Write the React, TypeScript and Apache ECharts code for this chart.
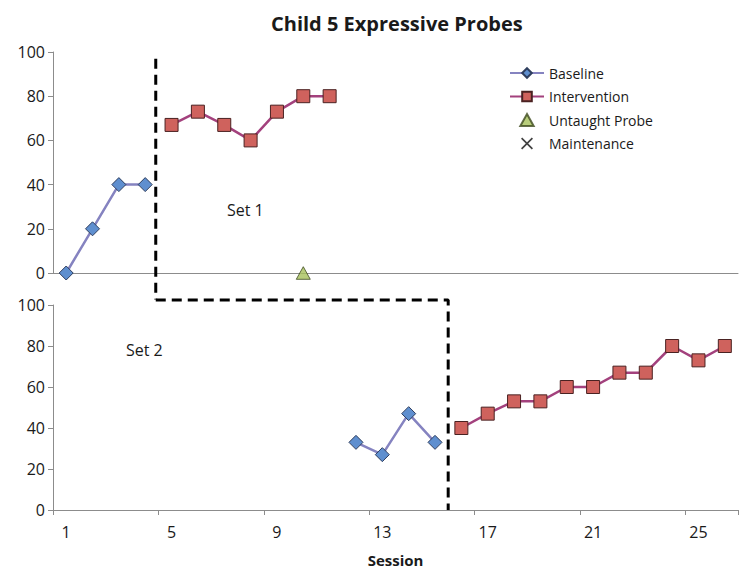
import React, { useEffect, useRef } from "react";
import * as echarts from "echarts";

const sessions = Array.from({ length: 26 }, (_, i) => String(i + 1));

// Set 1 (top panel)
const set1BaselineSessions = [1, 2, 3, 4];
const set1BaselineValues = [0, 20, 40, 40];
const set1InterventionSessions = [5, 6, 7, 8, 9, 10, 11];
const set1InterventionValues = [67, 73, 67, 60, 73, 80, 80];
const untaughtSessions = [10];
const untaughtValues = [0];

// Set 2 (bottom panel)
const set2BaselineSessions = [12, 13, 14, 15];
const set2BaselineValues = [33, 27, 47, 33];
const set2InterventionSessions = [16, 17, 18, 19, 20, 21, 22, 23, 24, 25, 26];
const set2InterventionValues = [40, 47, 53, 53, 60, 60, 67, 67, 80, 73, 80];

// Phase change lines (session position, value)
const phaseTopX = [4.4, 4.4];
const phaseTopY = [97, -12];
const phaseBottomX = [4.4, 15.5, 15.5];
const phaseBottomY = [102.5, 102.5, 0];

const FONT = "'Open Sans', sans-serif";
const TXT = "#1a1a1a";
const AXIS = "#8c8c8c";

const crossPath =
  "path://M1,0 L5,4 L9,0 L10,1 L6,5 L10,9 L9,10 L5,6 L1,10 L0,9 L4,5 L0,1 Z";
const trianglePath = "path://M5,0 L10,9 L0,9 Z";

const legendData = [
  { name: "Baseline" },
  { name: "Intervention" },
  { name: "Untaught Probe", icon: trianglePath },
  { name: "Maintenance", icon: crossPath },
];

const toPairs = (xs: number[], ys: number[]) => xs.map((s, i) => [s - 1, ys[i]]);
const toXY = (xs: number[], ys: number[]) => xs.map((x, i) => [x, ys[i]]);

const baselineStyle = {
  type: "line" as const,
  name: "Baseline",
  symbol: "diamond",
  symbolSize: 14,
  lineStyle: { color: "#8583c0", width: 2.5 },
  itemStyle: { color: "#5f8fcf", borderColor: "#2f3e5e", borderWidth: 1 },
};
const interventionStyle = {
  type: "line" as const,
  name: "Intervention",
  symbol: "rect",
  symbolSize: 13,
  lineStyle: { color: "#a3417d", width: 2.5 },
  itemStyle: { color: "#cf625d", borderColor: "#4a2222", borderWidth: 1 },
};
const phaseStyle = {
  type: "line" as const,
  name: "phase",
  symbol: "none",
  clip: false,
  silent: true,
  lineStyle: { color: "#000", width: 3, type: [10, 6] as any },
};

export default function App() {
  const ref = useRef<HTMLDivElement>(null);
  useEffect(() => {
    if (!ref.current) return;
    const chart = echarts.init(ref.current, null, { renderer: "svg" });
    const yAxisBase = {
      type: "value" as const,
      min: 0,
      max: 100,
      interval: 20,
      splitLine: { show: false },
      axisLine: { show: true, lineStyle: { color: AXIS, width: 1 } },
      axisTick: { show: true, length: 5, lineStyle: { color: AXIS } },
      axisLabel: { color: TXT, fontSize: 16, fontFamily: FONT, margin: 8 },
    };
    chart.setOption({
      animation: false,
      backgroundColor: "#fff",
      title: {
        text: "Child 5 Expressive Probes",
        left: 266,
        top: 8,
        textStyle: { fontSize: 20, fontWeight: "bold", color: TXT, fontFamily: FONT },
      },
      legend: {
        data: legendData,
        orient: "vertical",
        left: 504,
        top: 61,
        itemGap: 9.5,
        itemWidth: 34,
        itemHeight: 12,
        textStyle: { fontSize: 14, color: TXT, fontFamily: FONT },
      },
      grid: [
        { left: 53, top: 52, width: 685, height: 221 },
        { left: 53, top: 305, width: 685, height: 205 },
      ],
      xAxis: [
        {
          type: "category",
          gridIndex: 0,
          data: sessions,
          boundaryGap: true,
          axisLine: { show: true, onZero: true, lineStyle: { color: AXIS, width: 1 } },
          axisTick: { show: false },
          axisLabel: { show: false },
        },
        {
          type: "category",
          gridIndex: 1,
          data: sessions,
          boundaryGap: true,
          axisLine: { show: true, lineStyle: { color: AXIS, width: 1 } },
          axisTick: { show: true, length: 5, inside: false, lineStyle: { color: AXIS } },
          axisLabel: { interval: 3, color: TXT, fontSize: 16, fontFamily: FONT, margin: 14 },
          name: "Session",
          nameLocation: "middle",
          nameGap: 42,
          nameTextStyle: { fontSize: 15, fontWeight: "bold", color: TXT, fontFamily: FONT },
        },
        { type: "value", gridIndex: 0, min: 0.5, max: 26.5, show: false },
        { type: "value", gridIndex: 1, min: 0.5, max: 26.5, show: false },
      ],
      yAxis: [
        { ...yAxisBase, gridIndex: 0 },
        { ...yAxisBase, gridIndex: 1 },
      ],
      series: [
        { ...baselineStyle, xAxisIndex: 0, yAxisIndex: 0, data: toPairs(set1BaselineSessions, set1BaselineValues) },
        { ...interventionStyle, xAxisIndex: 0, yAxisIndex: 0, data: toPairs(set1InterventionSessions, set1InterventionValues) },
        {
          type: "scatter",
          name: "Untaught Probe",
          xAxisIndex: 0,
          yAxisIndex: 0,
          symbol: trianglePath,
          symbolKeepAspect: true,
          symbolSize: 14,
          itemStyle: { color: "#a6c15a", borderColor: "#3d4a1e", borderWidth: 1 },
          data: toPairs(untaughtSessions, untaughtValues),
        },
        {
          type: "scatter",
          name: "Maintenance",
          xAxisIndex: 0,
          yAxisIndex: 0,
          symbol: crossPath,
          symbolKeepAspect: true,
          symbolSize: 11,
          itemStyle: { color: "#111" },
          data: [],
        },
        { ...baselineStyle, xAxisIndex: 1, yAxisIndex: 1, data: toPairs(set2BaselineSessions, set2BaselineValues) },
        { ...interventionStyle, xAxisIndex: 1, yAxisIndex: 1, data: toPairs(set2InterventionSessions, set2InterventionValues) },
        { ...phaseStyle, xAxisIndex: 2, yAxisIndex: 0, data: toXY(phaseTopX, phaseTopY) },
        { ...phaseStyle, xAxisIndex: 3, yAxisIndex: 1, data: toXY(phaseBottomX, phaseBottomY) },
      ],
      graphic: [
        {
          type: "text",
          left: 227,
          top: 202,
          style: { text: "Set 1", fontSize: 16, fill: TXT, fontFamily: FONT },
        },
        {
          type: "text",
          left: 126,
          top: 342,
          style: { text: "Set 2", fontSize: 16, fill: TXT, fontFamily: FONT },
        },
      ],
    });
    return () => chart.dispose();
  }, []);
  return (
    <div
      ref={ref}
      style={{ position: "absolute", left: 0, top: 0, width: 750, height: 585, background: "#fff" }}
    />
  );
}
